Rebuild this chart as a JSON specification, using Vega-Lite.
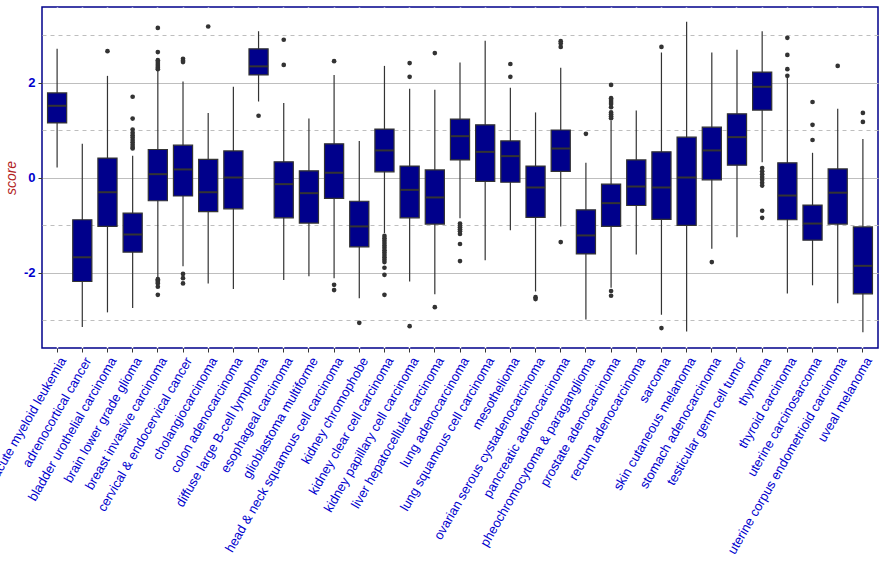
{
  "$schema": "https://vega.github.io/schema/vega-lite/v6.json",
  "autosize": {"type": "none"},
  "padding": {"left": 42, "top": 7, "right": 8, "bottom": 233},
  "width": 836,
  "height": 341,
  "background": "white",
  "config": {
    "view": {"stroke": "#00008B", "strokeWidth": 1.5},
    "font": "Liberation Sans"
  },
  "datasets": {
    "boxes": [
      {"cancer": "acute myeloid leukemia", "lo": 0.22, "q1": 1.16, "med": 1.52, "q3": 1.79, "hi": 2.72},
      {"cancer": "adrenocortical cancer", "lo": -3.14, "q1": -2.18, "med": -1.67, "q3": -0.88, "hi": 0.72},
      {"cancer": "bladder urothelial carcinoma", "lo": -2.83, "q1": -1.02, "med": -0.30, "q3": 0.42, "hi": 2.15},
      {"cancer": "brain lower grade glioma", "lo": -2.74, "q1": -1.56, "med": -1.19, "q3": -0.74, "hi": 0.47},
      {"cancer": "breast invasive carcinoma", "lo": -2.09, "q1": -0.48, "med": 0.08, "q3": 0.60, "hi": 2.25},
      {"cancer": "cervical & endocervical cancer", "lo": -1.86, "q1": -0.38, "med": 0.18, "q3": 0.69, "hi": 2.03},
      {"cancer": "cholangiocarcinoma", "lo": -2.22, "q1": -0.71, "med": -0.30, "q3": 0.39, "hi": 1.37},
      {"cancer": "colon adenocarcinoma", "lo": -2.34, "q1": -0.65, "med": 0.01, "q3": 0.57, "hi": 1.92},
      {"cancer": "diffuse large B-cell lymphoma", "lo": 1.61, "q1": 2.17, "med": 2.35, "q3": 2.72, "hi": 3.09},
      {"cancer": "esophageal carcinoma", "lo": -2.15, "q1": -0.84, "med": -0.13, "q3": 0.34, "hi": 1.58},
      {"cancer": "glioblastoma multiforme", "lo": -2.07, "q1": -0.95, "med": -0.32, "q3": 0.15, "hi": 1.25},
      {"cancer": "head & neck squamous cell carcinoma", "lo": -2.11, "q1": -0.43, "med": 0.11, "q3": 0.72, "hi": 2.17},
      {"cancer": "kidney chromophobe", "lo": -2.53, "q1": -1.45, "med": -1.02, "q3": -0.49, "hi": 0.78},
      {"cancer": "kidney clear cell carcinoma", "lo": -1.16, "q1": 0.13, "med": 0.58, "q3": 1.03, "hi": 2.36},
      {"cancer": "kidney papillary cell carcinoma", "lo": -2.18, "q1": -0.84, "med": -0.25, "q3": 0.25, "hi": 1.88},
      {"cancer": "liver hepatocellular carcinoma", "lo": -2.45, "q1": -0.97, "med": -0.41, "q3": 0.17, "hi": 1.86},
      {"cancer": "lung adenocarcinoma", "lo": -0.85, "q1": 0.38, "med": 0.88, "q3": 1.24, "hi": 2.43},
      {"cancer": "lung squamous cell carcinoma", "lo": -1.73, "q1": -0.07, "med": 0.55, "q3": 1.12, "hi": 2.89},
      {"cancer": "mesothelioma", "lo": -1.10, "q1": -0.09, "med": 0.46, "q3": 0.78, "hi": 1.90},
      {"cancer": "ovarian serous cystadenocarcinoma", "lo": -2.39, "q1": -0.83, "med": -0.20, "q3": 0.25, "hi": 1.38},
      {"cancer": "pancreatic adenocarcinoma", "lo": -1.02, "q1": 0.14, "med": 0.62, "q3": 1.01, "hi": 2.32},
      {"cancer": "pheochromocytoma & paraganglioma", "lo": -2.98, "q1": -1.60, "med": -1.21, "q3": -0.67, "hi": 0.32},
      {"cancer": "prostate adenocarcinoma", "lo": -2.31, "q1": -1.02, "med": -0.53, "q3": -0.13, "hi": 1.21},
      {"cancer": "rectum adenocarcinoma", "lo": -1.61, "q1": -0.58, "med": -0.18, "q3": 0.38, "hi": 1.42},
      {"cancer": "sarcoma", "lo": -2.88, "q1": -0.87, "med": -0.20, "q3": 0.55, "hi": 2.64},
      {"cancer": "skin cutaneous melanoma", "lo": -3.23, "q1": -1.00, "med": 0.01, "q3": 0.86, "hi": 3.29},
      {"cancer": "stomach adenocarcinoma", "lo": -1.49, "q1": -0.04, "med": 0.58, "q3": 1.07, "hi": 2.64},
      {"cancer": "testicular germ cell tumor", "lo": -1.25, "q1": 0.27, "med": 0.86, "q3": 1.35, "hi": 2.70},
      {"cancer": "thymoma", "lo": 0.33, "q1": 1.43, "med": 1.92, "q3": 2.23, "hi": 3.09},
      {"cancer": "thyroid carcinoma", "lo": -2.43, "q1": -0.88, "med": -0.37, "q3": 0.32, "hi": 2.11},
      {"cancer": "uterine carcinosarcoma", "lo": -2.26, "q1": -1.31, "med": -0.96, "q3": -0.57, "hi": 0.53},
      {"cancer": "uterine corpus endometrioid carcinoma", "lo": -2.64, "q1": -0.97, "med": -0.31, "q3": 0.19, "hi": 1.46},
      {"cancer": "uveal melanoma", "lo": -3.25, "q1": -2.44, "med": -1.85, "q3": -1.03, "hi": 0.82}
    ],
    "outliers": [
      {"cancer": "bladder urothelial carcinoma", "score": 2.67},
      {"cancer": "brain lower grade glioma", "score": 1.71},
      {"cancer": "brain lower grade glioma", "score": 1.25},
      {"cancer": "brain lower grade glioma", "score": 1.02},
      {"cancer": "brain lower grade glioma", "score": 0.95},
      {"cancer": "brain lower grade glioma", "score": 0.90},
      {"cancer": "brain lower grade glioma", "score": 0.85},
      {"cancer": "brain lower grade glioma", "score": 0.80},
      {"cancer": "brain lower grade glioma", "score": 0.75},
      {"cancer": "brain lower grade glioma", "score": 0.70},
      {"cancer": "brain lower grade glioma", "score": 0.65},
      {"cancer": "brain lower grade glioma", "score": 0.62},
      {"cancer": "breast invasive carcinoma", "score": 3.16},
      {"cancer": "breast invasive carcinoma", "score": 2.65},
      {"cancer": "breast invasive carcinoma", "score": 2.48},
      {"cancer": "breast invasive carcinoma", "score": 2.44},
      {"cancer": "breast invasive carcinoma", "score": 2.40},
      {"cancer": "breast invasive carcinoma", "score": 2.36},
      {"cancer": "breast invasive carcinoma", "score": 2.32},
      {"cancer": "breast invasive carcinoma", "score": 2.29},
      {"cancer": "breast invasive carcinoma", "score": -2.13},
      {"cancer": "breast invasive carcinoma", "score": -2.16},
      {"cancer": "breast invasive carcinoma", "score": -2.19},
      {"cancer": "breast invasive carcinoma", "score": -2.22},
      {"cancer": "breast invasive carcinoma", "score": -2.29},
      {"cancer": "breast invasive carcinoma", "score": -2.46},
      {"cancer": "cervical & endocervical cancer", "score": 2.51},
      {"cancer": "cervical & endocervical cancer", "score": 2.47},
      {"cancer": "cervical & endocervical cancer", "score": 2.44},
      {"cancer": "cervical & endocervical cancer", "score": -2.02},
      {"cancer": "cervical & endocervical cancer", "score": -2.11},
      {"cancer": "cervical & endocervical cancer", "score": -2.22},
      {"cancer": "cholangiocarcinoma", "score": 3.19},
      {"cancer": "diffuse large B-cell lymphoma", "score": 1.31},
      {"cancer": "esophageal carcinoma", "score": 2.91},
      {"cancer": "esophageal carcinoma", "score": 2.38},
      {"cancer": "head & neck squamous cell carcinoma", "score": 2.46},
      {"cancer": "head & neck squamous cell carcinoma", "score": -2.25},
      {"cancer": "head & neck squamous cell carcinoma", "score": -2.36},
      {"cancer": "kidney chromophobe", "score": -3.05},
      {"cancer": "kidney clear cell carcinoma", "score": -1.22},
      {"cancer": "kidney clear cell carcinoma", "score": -1.27},
      {"cancer": "kidney clear cell carcinoma", "score": -1.32},
      {"cancer": "kidney clear cell carcinoma", "score": -1.37},
      {"cancer": "kidney clear cell carcinoma", "score": -1.42},
      {"cancer": "kidney clear cell carcinoma", "score": -1.47},
      {"cancer": "kidney clear cell carcinoma", "score": -1.52},
      {"cancer": "kidney clear cell carcinoma", "score": -1.57},
      {"cancer": "kidney clear cell carcinoma", "score": -1.62},
      {"cancer": "kidney clear cell carcinoma", "score": -1.67},
      {"cancer": "kidney clear cell carcinoma", "score": -1.72},
      {"cancer": "kidney clear cell carcinoma", "score": -1.77},
      {"cancer": "kidney clear cell carcinoma", "score": -1.89},
      {"cancer": "kidney clear cell carcinoma", "score": -2.04},
      {"cancer": "kidney clear cell carcinoma", "score": -2.46},
      {"cancer": "kidney papillary cell carcinoma", "score": 2.42},
      {"cancer": "kidney papillary cell carcinoma", "score": 2.13},
      {"cancer": "kidney papillary cell carcinoma", "score": -3.12},
      {"cancer": "liver hepatocellular carcinoma", "score": 2.63},
      {"cancer": "liver hepatocellular carcinoma", "score": -2.72},
      {"cancer": "lung adenocarcinoma", "score": -0.96},
      {"cancer": "lung adenocarcinoma", "score": -1.00},
      {"cancer": "lung adenocarcinoma", "score": -1.04},
      {"cancer": "lung adenocarcinoma", "score": -1.08},
      {"cancer": "lung adenocarcinoma", "score": -1.12},
      {"cancer": "lung adenocarcinoma", "score": -1.18},
      {"cancer": "lung adenocarcinoma", "score": -1.39},
      {"cancer": "lung adenocarcinoma", "score": -1.75},
      {"cancer": "mesothelioma", "score": 2.40},
      {"cancer": "mesothelioma", "score": 2.13},
      {"cancer": "ovarian serous cystadenocarcinoma", "score": -2.51},
      {"cancer": "ovarian serous cystadenocarcinoma", "score": -2.55},
      {"cancer": "pancreatic adenocarcinoma", "score": 2.88},
      {"cancer": "pancreatic adenocarcinoma", "score": 2.83},
      {"cancer": "pancreatic adenocarcinoma", "score": 2.76},
      {"cancer": "pancreatic adenocarcinoma", "score": -1.35},
      {"cancer": "pheochromocytoma & paraganglioma", "score": 0.93},
      {"cancer": "prostate adenocarcinoma", "score": 1.96},
      {"cancer": "prostate adenocarcinoma", "score": 1.68},
      {"cancer": "prostate adenocarcinoma", "score": 1.64},
      {"cancer": "prostate adenocarcinoma", "score": 1.60},
      {"cancer": "prostate adenocarcinoma", "score": 1.56},
      {"cancer": "prostate adenocarcinoma", "score": 1.49},
      {"cancer": "prostate adenocarcinoma", "score": 1.38},
      {"cancer": "prostate adenocarcinoma", "score": 1.34},
      {"cancer": "prostate adenocarcinoma", "score": 1.30},
      {"cancer": "prostate adenocarcinoma", "score": 1.26},
      {"cancer": "prostate adenocarcinoma", "score": -2.38},
      {"cancer": "prostate adenocarcinoma", "score": -2.48},
      {"cancer": "sarcoma", "score": 2.76},
      {"cancer": "sarcoma", "score": -3.16},
      {"cancer": "stomach adenocarcinoma", "score": -1.77},
      {"cancer": "thymoma", "score": 0.21},
      {"cancer": "thymoma", "score": 0.14},
      {"cancer": "thymoma", "score": 0.08},
      {"cancer": "thymoma", "score": 0.02},
      {"cancer": "thymoma", "score": -0.04},
      {"cancer": "thymoma", "score": -0.10},
      {"cancer": "thymoma", "score": -0.16},
      {"cancer": "thymoma", "score": -0.69},
      {"cancer": "thymoma", "score": -0.84},
      {"cancer": "thyroid carcinoma", "score": 2.95},
      {"cancer": "thyroid carcinoma", "score": 2.59},
      {"cancer": "thyroid carcinoma", "score": 2.29},
      {"cancer": "thyroid carcinoma", "score": 2.15},
      {"cancer": "uterine carcinosarcoma", "score": 1.60},
      {"cancer": "uterine carcinosarcoma", "score": 1.12},
      {"cancer": "uterine carcinosarcoma", "score": 0.80},
      {"cancer": "uterine corpus endometrioid carcinoma", "score": 2.36},
      {"cancer": "uveal melanoma", "score": 1.37},
      {"cancer": "uveal melanoma", "score": 1.18}
    ]
  },
  "encoding": {
    "x": {
      "field": "cancer",
      "type": "nominal",
      "sort": null,
      "scale": {"paddingInner": 0, "paddingOuter": 0.1},
      "axis": {
        "title": null,
        "bandPosition": 0.5,
        "domain": false,
        "grid": true,
        "gridColor": "white",
        "gridWidth": 1.5,
        "ticks": true,
        "tickColor": "#333333",
        "tickSize": 4,
        "labelAngle": -60,
        "labelAlign": "right",
        "labelBaseline": "middle",
        "labelPadding": 6,
        "labelOffset": 6,
        "labelFont": "Liberation Sans",
        "labelFontSize": 13,
        "labelColor": "#0000CD",
        "labelLimit": 400,
        "labelOverlap": false
      }
    }
  },
  "layer": [
    {
      "data": {"name": "boxes"},
      "mark": {"type": "rule", "color": "#333333", "strokeWidth": 1.2},
      "encoding": {
        "y": {
          "field": "lo",
          "type": "quantitative",
          "scale": {"domain": [-3.58, 3.6], "nice": false, "zero": false},
          "axis": {
            "title": "score",
            "titleColor": "#B22222",
            "titleFont": "Liberation Sans",
            "titleFontStyle": "italic",
            "titleFontWeight": "normal",
            "titleFontSize": 14,
            "titlePadding": 5,
            "values": [-3, -2, -1, 0, 1, 2, 3],
            "domain": false,
            "grid": true,
            "gridColor": "#BEBEBE",
            "gridWidth": 1,
            "gridDash": {"condition": {"test": "datum.value % 2 !== 0", "value": [4, 4]}, "value": []},
            "tickColor": {"condition": {"test": "datum.value % 2 !== 0", "value": "transparent"}, "value": "#333333"},
            "tickSize": 4,
            "labelExpr": "datum.value % 2 === 0 ? '' + datum.value : ''",
            "labelFont": "Liberation Sans",
            "labelFontSize": 13,
            "labelFontWeight": "bold",
            "labelColor": "#0000CD",
            "labelPadding": 3
          }
        },
        "y2": {"field": "hi"}
      }
    },
    {
      "data": {"name": "boxes"},
      "mark": {"type": "bar", "fill": "#00008B", "stroke": "#333333", "strokeWidth": 1.2, "width": {"band": 0.76}},
      "encoding": {
        "y": {"field": "q1", "type": "quantitative"},
        "y2": {"field": "q3"}
      }
    },
    {
      "data": {"name": "boxes"},
      "mark": {"type": "tick", "color": "#333333", "size": 19, "thickness": 2, "opacity": 1},
      "encoding": {
        "y": {"field": "med", "type": "quantitative"}
      }
    },
    {
      "data": {"name": "outliers"},
      "mark": {"type": "circle", "color": "#333333", "size": 22, "opacity": 1},
      "encoding": {
        "y": {"field": "score", "type": "quantitative"}
      }
    }
  ]
}
